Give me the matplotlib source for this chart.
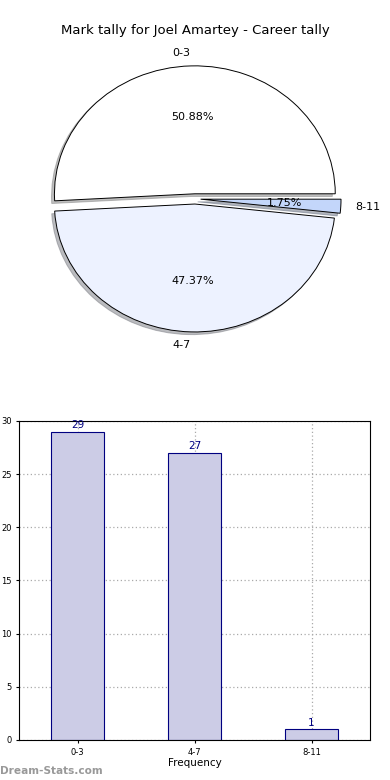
import matplotlib
matplotlib.use('Agg')
import matplotlib.pyplot as plt

# data
categories = ['0-3', '4-7', '8-11']
tally = [29, 27, 1]
pie_colors = ['#ffffff', '#edf2ff', '#c3d6fa']

fig = plt.figure(figsize=(3.9, 7.8), dpi=100)

# pie chart (top)
ax1 = fig.add_axes([0.05, 0.54, 0.9, 0.41])
wedges, texts, autotexts = ax1.pie(
    tally, labels=categories, colors=pie_colors, explode=[0.04, 0.04, 0.04],
    autopct='%1.2f%%', pctdistance=0.6, labeldistance=1.1,
    shadow={'ox': -0.015, 'oy': -0.015, 'shade': 0.5},
    startangle=0, wedgeprops={'edgecolor': 'black', 'linewidth': 0.7},
    textprops={'fontsize': 8})
ax1.set_aspect('auto')
ax1.set_xlim(-1.25, 1.25)
ax1.set_ylim(-1.25, 1.25)
fig.text(0.5, 0.961, 'Mark tally for Joel Amartey - Career tally',
         ha='center', va='center', fontsize=9.5)

# bar chart (bottom)
ax2 = fig.add_axes([0.049, 0.0513, 0.9, 0.409])
x = range(len(categories))
bars = ax2.bar(x, tally, width=0.45, color='#ccccE6', edgecolor='#000080',
               linewidth=0.8, zorder=2)
for xi, v in zip(x, tally):
    ax2.text(xi, v + 0.15, str(v), ha='center', va='bottom',
             color='#000080', fontsize=7.5)
ax2.set_xlim(-0.5, 2.5)
ax2.set_ylim(0, 30)
ax2.set_yticks(range(0, 31, 5))
ax2.set_xticks(list(x))
ax2.set_xticklabels(categories)
ax2.tick_params(labelsize=6, length=2)
ax2.grid(True, linestyle=(0, (1, 2)), color='#aaaaaa', linewidth=0.9, zorder=0)
ax2.set_axisbelow(True)
ax2.set_xlabel('Frequency', fontsize=7.5, labelpad=1)
ax2.set_ylabel('Mark Tally', fontsize=7.5, labelpad=2)

fig.text(0.0, 0.012, 'Dream-Stats.com', fontsize=7.6, color='#999999',
         fontweight='bold', ha='left', va='center')

plt.savefig('out.png', dpi=100)
